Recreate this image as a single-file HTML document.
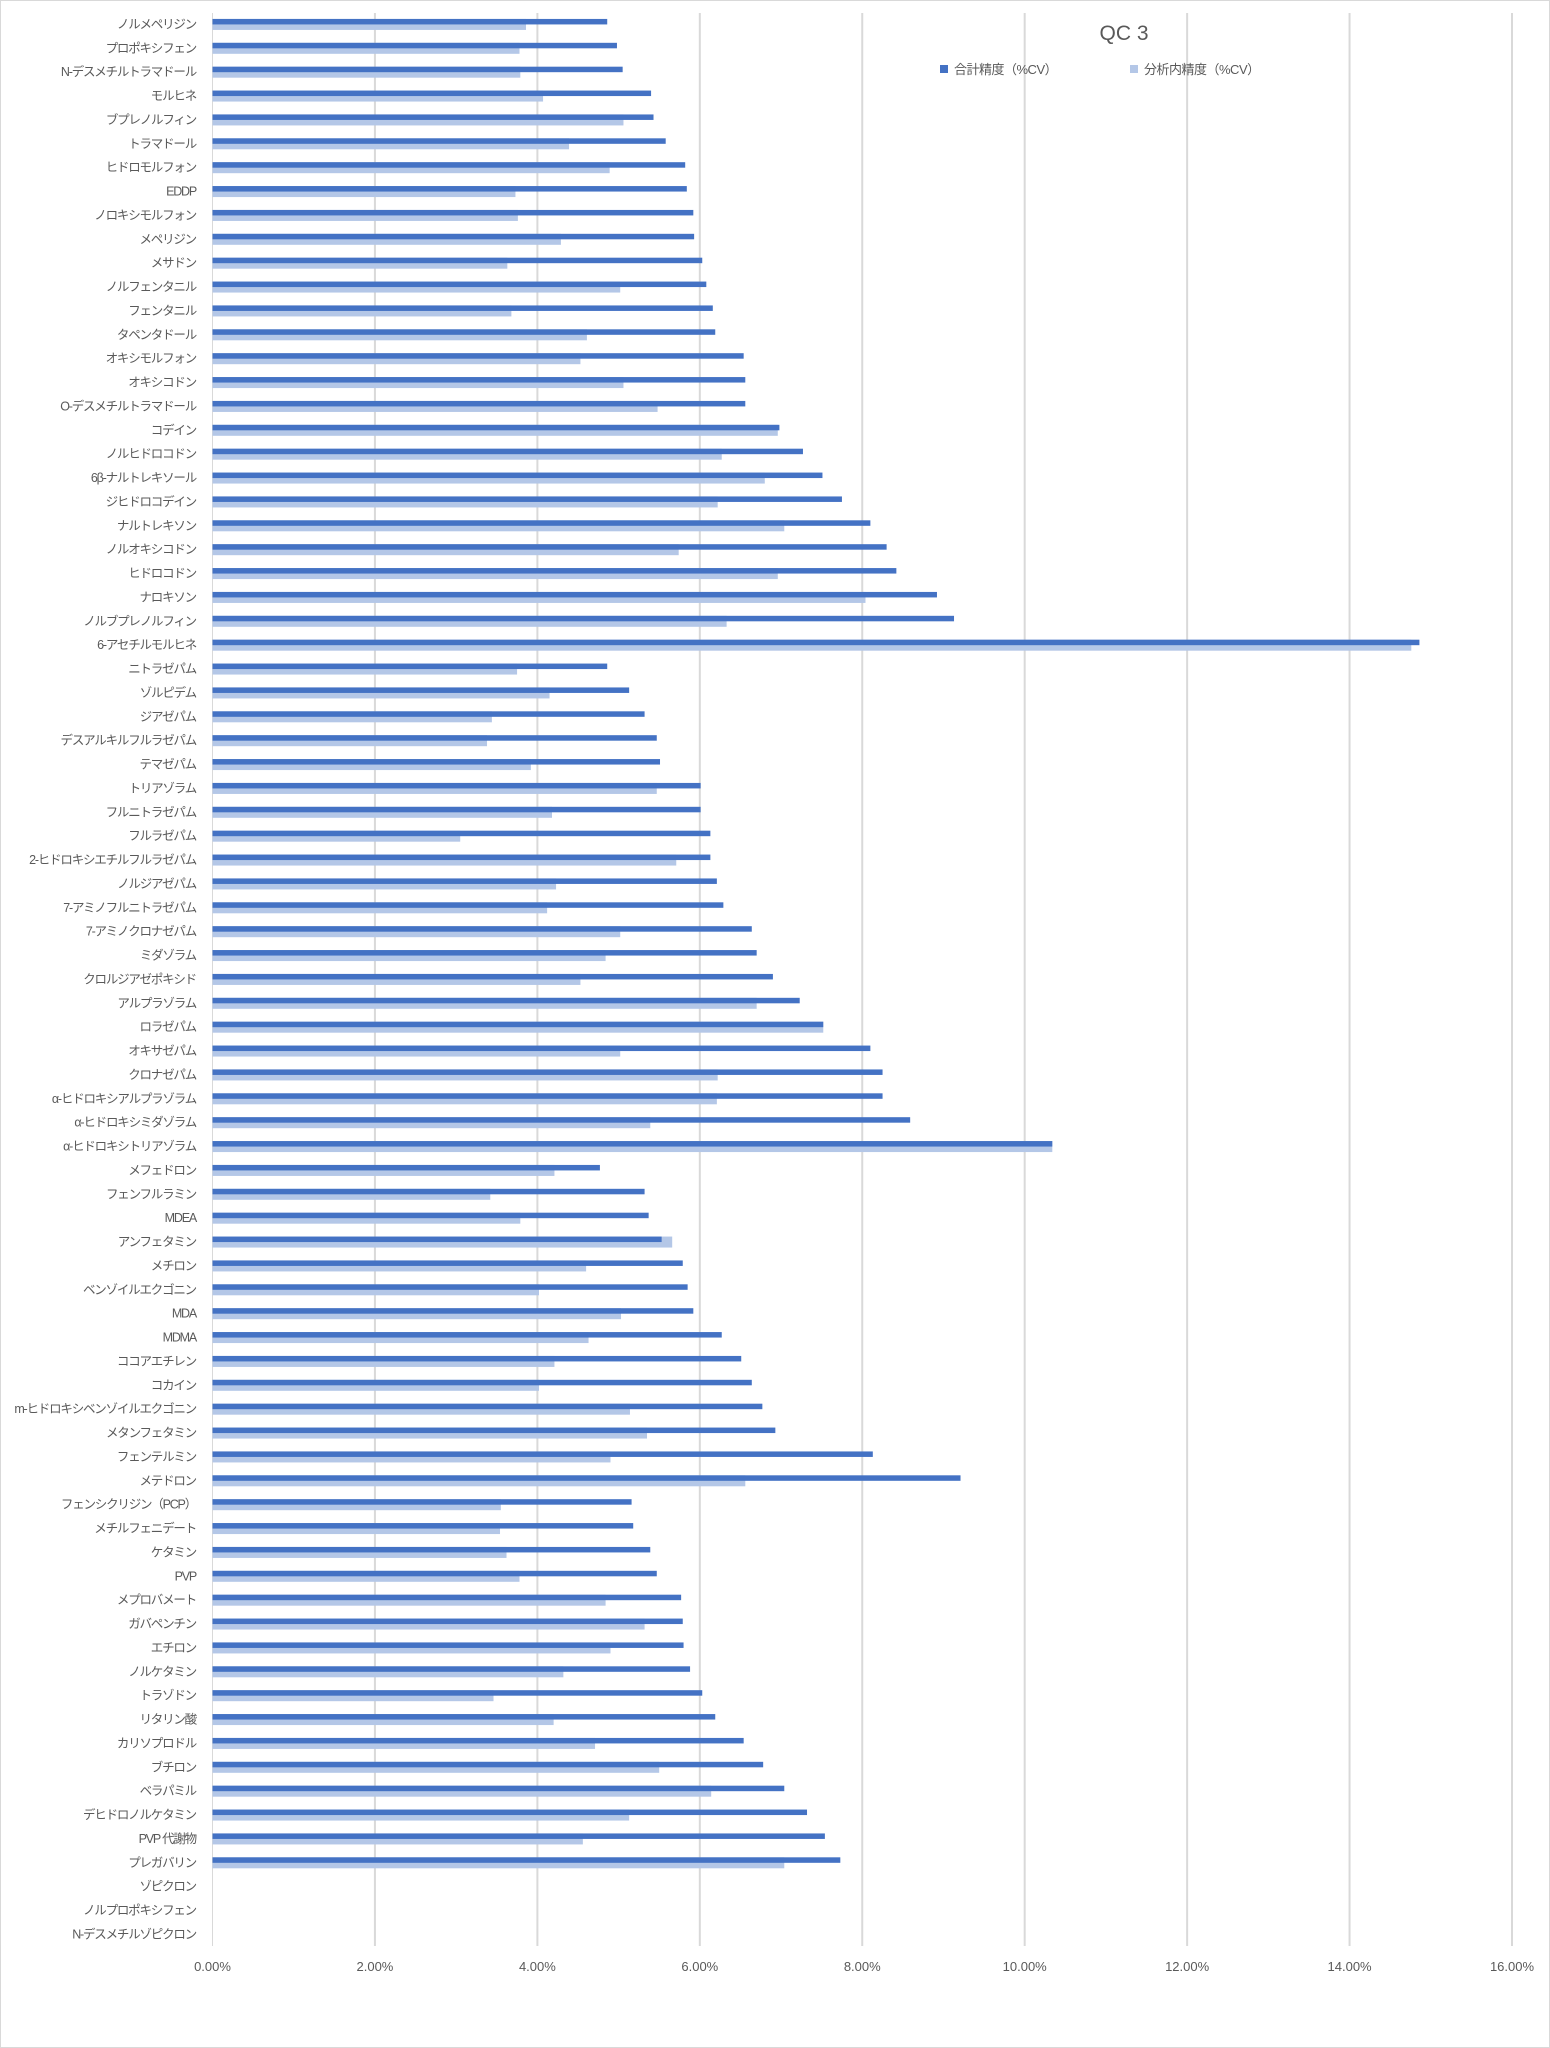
<!DOCTYPE html>
<html><head><meta charset="utf-8"><style>
body{margin:0;background:#fff}
svg{display:block}
text{font-family:"Liberation Sans","Noto Sans CJK JP",sans-serif;fill:#595959}
.lab{letter-spacing:-1.2px}
</style></head><body>
<svg id="c" width="1550" height="2048" xmlns="http://www.w3.org/2000/svg">
<rect x="0.5" y="0.5" width="1549" height="2047" fill="#fff" stroke="#d9d9d9"/>
<g id="grid"></g>
<g id="bars"></g>
<g id="labels"></g>
<text x="1124" y="40" font-size="21" text-anchor="middle">QC 3</text>
<rect x="940" y="65" width="8" height="8" fill="#4472C4"/>
<text x="954" y="74" font-size="13" style="letter-spacing:-0.5px">合計精度（%CV）</text>
<rect x="1130" y="65" width="8" height="8" fill="#B4C7E7"/>
<text x="1144" y="74" font-size="13" style="letter-spacing:-0.5px">分析内精度（%CV）</text>
</svg>
<script>
const names=["ノルメペリジン","プロポキシフェン","N-デスメチルトラマドール","モルヒネ","ブプレノルフィン","トラマドール","ヒドロモルフォン","EDDP","ノロキシモルフォン","メペリジン","メサドン","ノルフェンタニル","フェンタニル","タペンタドール","オキシモルフォン","オキシコドン","O-デスメチルトラマドール","コデイン","ノルヒドロコドン","6β-ナルトレキソール","ジヒドロコデイン","ナルトレキソン","ノルオキシコドン","ヒドロコドン","ナロキソン","ノルブプレノルフィン","6-アセチルモルヒネ","ニトラゼパム","ゾルピデム","ジアゼパム","デスアルキルフルラゼパム","テマゼパム","トリアゾラム","フルニトラゼパム","フルラゼパム","2-ヒドロキシエチルフルラゼパム","ノルジアゼパム","7-アミノフルニトラゼパム","7-アミノクロナゼパム","ミダゾラム","クロルジアゼポキシド","アルプラゾラム","ロラゼパム","オキサゼパム","クロナゼパム","α-ヒドロキシアルプラゾラム","α-ヒドロキシミダゾラム","α-ヒドロキシトリアゾラム","メフェドロン","フェンフルラミン","MDEA","アンフェタミン","メチロン","ベンゾイルエクゴニン","MDA","MDMA","ココアエチレン","コカイン","m-ヒドロキシベンゾイルエクゴニン","メタンフェタミン","フェンテルミン","メテドロン","フェンシクリジン（PCP）","メチルフェニデート","ケタミン","PVP","メプロバメート","ガバペンチン","エチロン","ノルケタミン","トラゾドン","リタリン酸","カリソプロドル","ブチロン","ベラパミル","デヒドロノルケタミン","PVP 代謝物","プレガバリン","ゾピクロン","ノルプロポキシフェン","N-デスメチルゾピクロン"];
const d=[[4.86,3.86],[4.98,3.78],[5.05,3.79],[5.40,4.07],[5.43,5.06],[5.58,4.39],[5.82,4.89],[5.84,3.73],[5.92,3.76],[5.93,4.29],[6.03,3.63],[6.08,5.02],[6.16,3.68],[6.19,4.61],[6.54,4.53],[6.56,5.06],[6.56,5.48],[6.98,6.96],[7.27,6.27],[7.51,6.80],[7.75,6.22],[8.10,7.04],[8.30,5.74],[8.42,6.96],[8.92,8.04],[9.13,6.33],[14.86,14.76],[4.86,3.75],[5.13,4.15],[5.32,3.44],[5.47,3.38],[5.51,3.92],[6.01,5.47],[6.01,4.18],[6.13,3.05],[6.13,5.71],[6.21,4.23],[6.29,4.12],[6.64,5.02],[6.70,4.84],[6.90,4.53],[7.23,6.70],[7.52,7.52],[8.10,5.02],[8.25,6.22],[8.25,6.21],[8.59,5.39],[10.34,10.34],[4.77,4.21],[5.32,3.42],[5.37,3.79],[5.53,5.66],[5.79,4.60],[5.85,4.02],[5.92,5.03],[6.27,4.63],[6.51,4.21],[6.64,4.02],[6.77,5.14],[6.93,5.35],[8.13,4.90],[9.21,6.56],[5.16,3.55],[5.18,3.54],[5.39,3.62],[5.47,3.78],[5.77,4.84],[5.79,5.32],[5.80,4.90],[5.88,4.32],[6.03,3.46],[6.19,4.20],[6.54,4.71],[6.78,5.50],[7.04,6.14],[7.32,5.13],[7.54,4.56],[7.73,7.04]];
const X0=212.5,PX=(1512-212.5)/16,TOP=12,P=23.875;
let g="",b="",l="";
for(let i=0;i<=8;i++){const x=X0+i*2*PX;
 if(i>0)g+=`<line x1="${x}" y1="13" x2="${x}" y2="1946" stroke="#d9d9d9" stroke-width="2"/>`;
 l+=`<text x="${x}" y="1971" font-size="13" text-anchor="middle">${(i*2).toFixed(2)}%</text>`;}
g+=`<line x1="${X0}" y1="13" x2="${X0}" y2="1946" stroke="#d9d9d9" stroke-width="1"/>`;
names.forEach((n,i)=>{const c=TOP+P*(i+0.5);
 l+=`<text class="lab" x="196" y="${c+4.5}" font-size="12.5" text-anchor="end">${n}</text>`;
 if(d[i]){b+=`<rect x="${X0}" y="${c-5}" width="${d[i][1]*PX}" height="11" fill="#B4C7E7"/>`;
 b+=`<rect x="${X0}" y="${c-5}" width="${d[i][0]*PX}" height="5.5" fill="#4472C4"/>`;}
});
document.getElementById("grid").innerHTML=g;
document.getElementById("bars").innerHTML=b;
document.getElementById("labels").innerHTML=l;
</script>
</body></html>
